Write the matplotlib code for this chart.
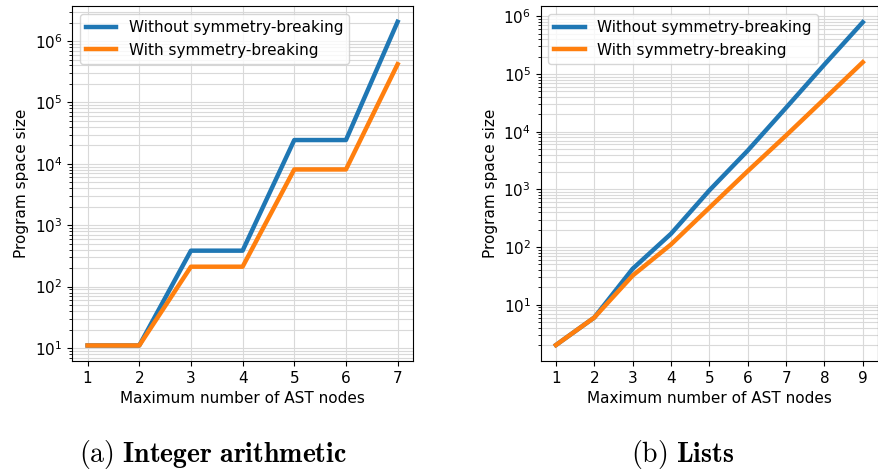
import matplotlib
matplotlib.use("Agg")
import matplotlib.pyplot as plt

plt.rcParams['mathtext.fontset'] = 'cm'

# integer arithmetic
int_nodes = [1, 2, 3, 4, 5, 6, 7]
int_without = [11, 11, 385, 385, 24400, 24400, 2.06e6]
int_with = [11, 11, 211, 211, 8100, 8100, 4.2e5]

# lists
list_nodes = [1, 2, 3, 4, 5, 6, 7, 8, 9]
list_without = [2, 6, 42, 170, 960, 4700, 26000, 146000, 790000]
list_with = [2, 6, 32, 111, 480, 2070, 8600, 37000, 160000]

captions = [r"$\mathrm{(a)}\ \mathbf{Integer\ arithmetic}$",
            r"$\mathrm{(b)}\ \mathbf{Lists}$"]

fig = plt.figure(figsize=(8.79, 4.74), dpi=100)
ax1 = fig.add_axes([0.082, 0.238, 0.388, 0.749])
ax2 = fig.add_axes([0.615, 0.238, 0.384, 0.749])

for ax, x, a, b in [(ax1, int_nodes, int_without, int_with),
                    (ax2, list_nodes, list_without, list_with)]:
    ax.plot(x, a, color='#1f77b4', lw=3.2, label='Without symmetry-breaking')
    ax.plot(x, b, color='#ff7f0e', lw=3.2, label='With symmetry-breaking')
    ax.set_yscale('log')
    ax.set_xticks(x)
    ax.grid(True, which='both', color='#d9d9d9', lw=0.8)
    ax.set_axisbelow(True)
    ax.set_xlabel('Maximum number of AST nodes', fontsize=11)
    ax.set_ylabel('Program space size', fontsize=11)
    ax.tick_params(labelsize=11)
    ax.legend(loc='upper left', fontsize=11)

ax1.set_ylim(6.1, 3.7e6)
ax2.set_ylim(1.05, 1.5e6)

fig.text(0.242, 0.025, captions[0], fontsize=20, ha='center')
fig.text(0.777, 0.025, captions[1], fontsize=20, ha='center')

fig.savefig('out.png', dpi=100)
